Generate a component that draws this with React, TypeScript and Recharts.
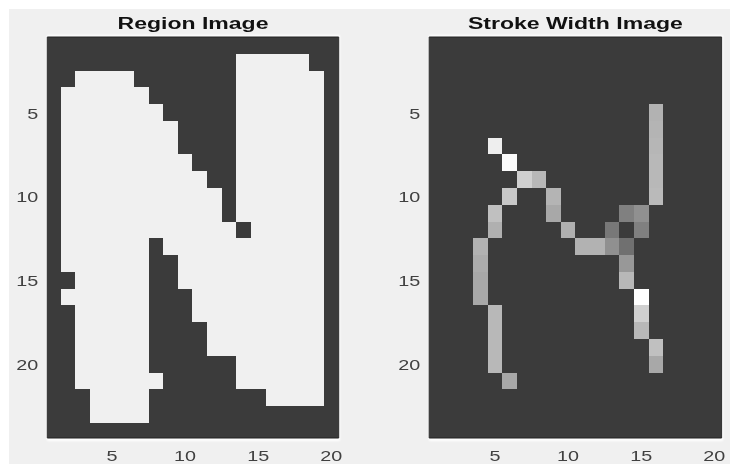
import React from 'react';
import { ScatterChart, Scatter, XAxis, YAxis, CartesianGrid, ReferenceLine } from 'recharts';

const xTicks = [5, 10, 15, 20];
const yTicks = [5, 10, 15, 20];
const Y_DOMAIN = [0.5, 24.4];
const REGION_X_DOMAIN = [0.58, 20.5];
const STROKE_X_DOMAIN = [0.5, 20.5];

// row, first column, last column of each white run
const regionRuns: number[][] = [
  [2, 14, 18],
  [3, 3, 6], [3, 14, 19],
  [4, 2, 7], [4, 14, 19],
  [5, 2, 8], [5, 14, 19],
  [6, 2, 9], [6, 14, 19],
  [7, 2, 9], [7, 14, 19],
  [8, 2, 10], [8, 14, 19],
  [9, 2, 11], [9, 14, 19],
  [10, 2, 12], [10, 14, 19],
  [11, 2, 12], [11, 14, 19],
  [12, 2, 13], [12, 15, 19],
  [13, 2, 7], [13, 9, 19],
  [14, 2, 7], [14, 10, 19],
  [15, 3, 7], [15, 10, 19],
  [16, 2, 7], [16, 11, 19],
  [17, 3, 7], [17, 11, 19],
  [18, 3, 7], [18, 12, 19],
  [19, 3, 7], [19, 12, 19],
  [20, 3, 7], [20, 14, 19],
  [21, 3, 8], [21, 14, 19],
  [22, 4, 7], [22, 16, 19],
  [23, 4, 7],
];

// row, column, grey level
const strokeCells: number[][] = [
  [5, 16, 178], [6, 16, 180], [7, 16, 182], [8, 16, 184], [9, 16, 184], [10, 16, 186],
  [7, 5, 238], [8, 6, 250], [9, 7, 208], [9, 8, 184],
  [10, 6, 200], [10, 9, 180], [11, 9, 168], [11, 5, 192], [12, 5, 176], [12, 10, 176],
  [11, 14, 128], [11, 15, 144], [12, 13, 120], [12, 15, 128],
  [13, 4, 178], [13, 11, 178], [13, 12, 178], [13, 13, 144], [13, 14, 112],
  [14, 4, 172], [14, 14, 152], [15, 4, 168], [15, 14, 184], [16, 4, 168], [16, 15, 255],
  [17, 5, 184], [17, 15, 208], [18, 5, 184], [18, 15, 184],
  [19, 5, 184], [19, 16, 192], [20, 5, 184], [20, 16, 168], [21, 6, 168],
];

const regionData = regionRuns.flatMap(([row, a, b]) => {
  const out: { col: number; row: number; grey: number }[] = [];
  for (let col = a; col <= b; col++) out.push({ col, row, grey: 240 });
  return out;
});
const strokeData = strokeCells.map(([row, col, grey]) => ({ row, col, grey }));

const W = 365;
const H = 464;
const TOP = 37;
const BOTTOM = 26;
const PLOT_H = H - TOP - BOTTOM;
const Y_UNIT = PLOT_H / (Y_DOMAIN[1] - Y_DOMAIN[0]);

const FONT = '"Liberation Sans", Arial, sans-serif';

function XTick({ x, y, payload }: any) {
  const s = String(payload.value);
  return (
    <text x={x} y={y + 15} textAnchor="middle" fontFamily={FONT} fontSize={14} fill="#404040"
      textLength={s.length * 11} lengthAdjust="spacingAndGlyphs">{s}</text>
  );
}
function YTick({ x, y, payload }: any) {
  const s = String(payload.value);
  return (
    <text x={x - 1} y={y + 6} textAnchor="end" fontFamily={FONT} fontSize={14} fill="#404040"
      textLength={s.length * 11} lengthAdjust="spacingAndGlyphs">{s}</text>
  );
}

function Panel({ left, plotLeft, plotWidth, title, titleWidth, data, xDomain }: any) {
  const unit = plotWidth / (xDomain[1] - xDomain[0]);
  const Cell = (p: any) => {
    const g = p.payload.grey;
    return (
      <rect x={p.cx - unit / 2} y={p.cy - Y_UNIT / 2} width={unit} height={Y_UNIT}
        fill={`rgb(${g},${g},${g})`} shapeRendering="crispEdges" />
    );
  };
  const yAxisWidth = 30;
  return (
    <div style={{ position: 'absolute', left, top: 0, width: W, height: H, filter: 'blur(0.7px)' }}>
      <ScatterChart width={W} height={H}
        margin={{ top: TOP, right: W - plotLeft - plotWidth, bottom: 0, left: plotLeft - yAxisWidth }}>
        <CartesianGrid horizontal={false} vertical={false} fill="#3b3b3b" />
        <XAxis type="number" dataKey="col" domain={xDomain} ticks={xTicks} allowDataOverflow
          height={BOTTOM} interval={0} tick={XTick} tickLine={false} axisLine={{ stroke: '#222222' }} />
        <YAxis type="number" dataKey="row" domain={Y_DOMAIN} ticks={yTicks} reversed allowDataOverflow
          width={yAxisWidth} interval={0} tick={YTick} tickLine={false} axisLine={{ stroke: '#303030' }} />
        <Scatter data={data} isAnimationActive={false} shape={Cell} />
        <ReferenceLine y={Y_DOMAIN[0]} stroke="#222222" />
        <ReferenceLine x={xDomain[1]} stroke="#303030" />
        <text x={plotLeft + plotWidth / 2} y={29} textAnchor="middle" fontFamily={FONT} fontWeight="bold"
          fontSize={16} fill="#111111" textLength={titleWidth} lengthAdjust="spacingAndGlyphs">{title}</text>
      </ScatterChart>
    </div>
  );
}

export default function App() {
  return (
    <div style={{ position: 'absolute', left: 0, top: 0, width: 730, height: 464, background: '#ffffff', overflow: 'hidden' }}>
      <div style={{ position: 'absolute', left: 9, top: 9, width: 721, height: 455, background: '#f0f0f0', filter: 'blur(0.6px)' }} />
      <div style={{ position: 'absolute', left: 46.5, top: 34.5, width: 293, height: 406, background: '#ffffff', filter: 'blur(0.8px)' }} />
      <div style={{ position: 'absolute', left: 428.5, top: 34.5, width: 294, height: 406, background: '#ffffff', filter: 'blur(0.8px)' }} />
      <Panel left={0} plotLeft={47.3} plotWidth={291.4} title="Region Image" titleWidth={151} data={regionData} xDomain={REGION_X_DOMAIN} />
      <Panel left={365} plotLeft={64.2} plotWidth={292.4} title="Stroke Width Image" titleWidth={215} data={strokeData} xDomain={STROKE_X_DOMAIN} />
    </div>
  );
}
